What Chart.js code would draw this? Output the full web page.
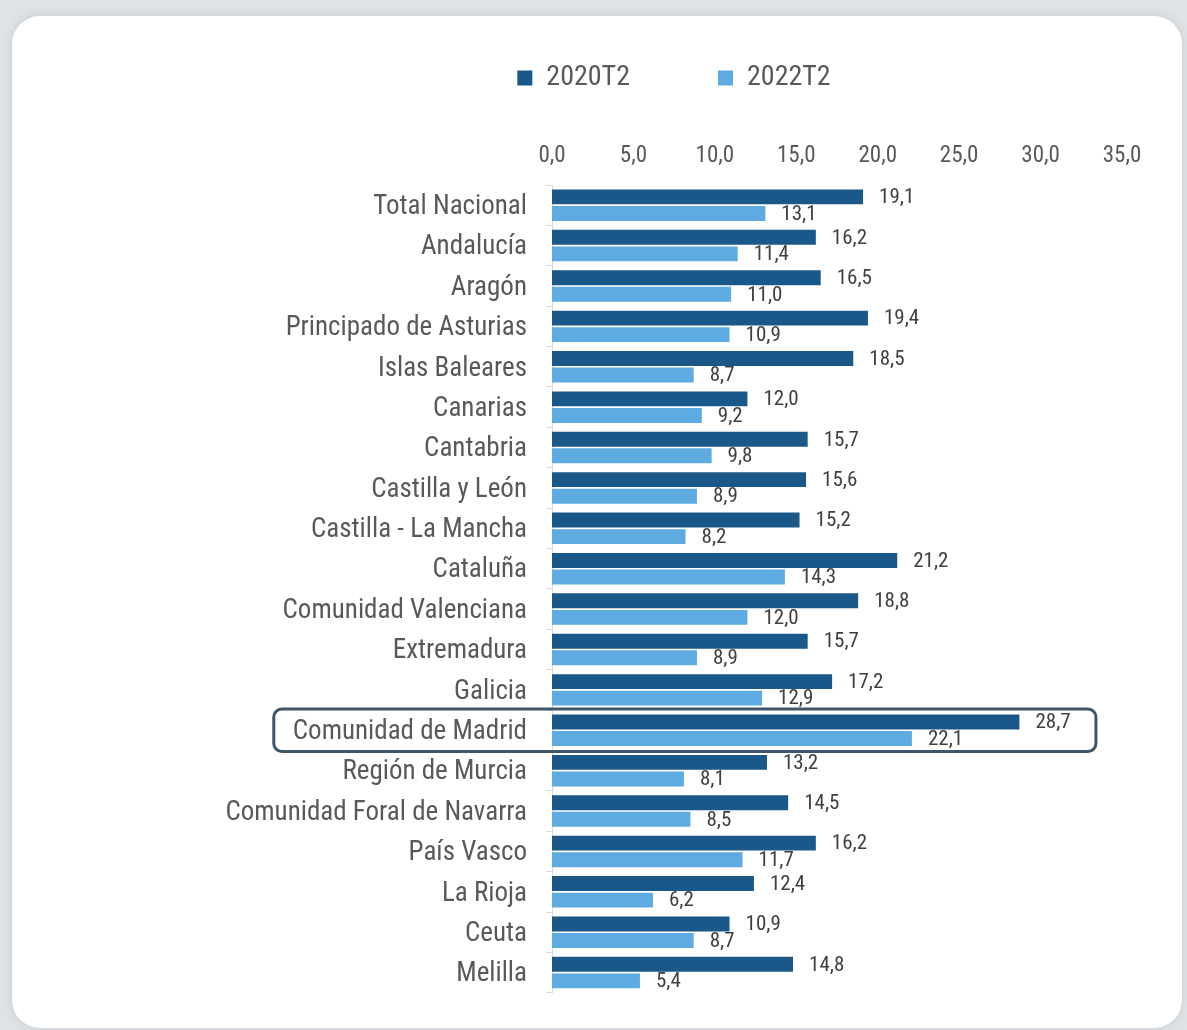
<!DOCTYPE html>
<html>
<head>
<meta charset="utf-8">
<script src="https://cdn.jsdelivr.net/npm/chart.js@4/dist/chart.umd.min.js"></script>
<style>
  html, body { margin: 0; padding: 0; }
  body { width: 1187px; height: 1030px; background: #dfe3e6; overflow: hidden; position: relative; }
  .card {
    position: absolute; left: 12px; top: 16px; width: 1170px; height: 1012px;
    background: #fff; border-radius: 28px; box-shadow: 0 0 10px rgba(120,130,140,0.25);
  }
  canvas { display: block; }
</style>
</head>
<body>
<div class="card"><canvas id="ocupados" width="1170" height="1012"></canvas></div>
<script>
var regiones = ["Total Nacional", "Andalucía", "Aragón", "Principado de Asturias", "Islas Baleares",
  "Canarias", "Cantabria", "Castilla y León", "Castilla - La Mancha", "Cataluña",
  "Comunidad Valenciana", "Extremadura", "Galicia", "Comunidad de Madrid", "Región de Murcia",
  "Comunidad Foral de Navarra", "País Vasco", "La Rioja", "Ceuta", "Melilla"];
var serie2020 = [19.1, 16.2, 16.5, 19.4, 18.5, 12.0, 15.7, 15.6, 15.2, 21.2,
  18.8, 15.7, 17.2, 28.7, 13.2, 14.5, 16.2, 12.4, 10.9, 14.8];
var serie2022 = [13.1, 11.4, 11.0, 10.9, 8.7, 9.2, 9.8, 8.9, 8.2, 14.3,
  12.0, 8.9, 12.9, 22.1, 8.1, 8.5, 11.7, 6.2, 8.7, 5.4];
var etiquetas = ["2020T2", "2022T2"];
var destacada = "Comunidad de Madrid";

var FAMILY = "'Roboto Condensed', 'Liberation Sans Narrow', 'DejaVu Sans Condensed', 'Arial Narrow', Roboto, sans-serif";
var GREY_TEXT = "#595959";
var CAT_SIZE = 27;

function coma(v) {
  return Number(v).toFixed(1).replace(".", ",");
}

// value next to the end of every bar
var valueLabels = {
  id: "valueLabels",
  afterDatasetsDraw: function(chart) {
    var ctx = chart.ctx;
    ctx.save();
    ctx.font = "21px " + FAMILY;
    ctx.fillStyle = "#404040";
    ctx.textAlign = "left";
    ctx.textBaseline = "middle";
    chart.data.datasets.forEach(function(ds, i) {
      chart.getDatasetMeta(i).data.forEach(function(bar, j) {
        ctx.fillText(coma(ds.data[j]), bar.x + 16, bar.y + 1);
      });
    });
    ctx.restore();
  }
};

// rounded frame around the highlighted region
var highlight = {
  id: "highlight",
  afterDatasetsDraw: function(chart) {
    var y = chart.scales.y, x = chart.scales.x, ctx = chart.ctx;
    var idx = regiones.indexOf(destacada);
    var cy = y.getPixelForValue(idx);
    var half = (y.getPixelForValue(1) - y.getPixelForValue(0)) / 2 + 1;
    ctx.save();
    ctx.font = CAT_SIZE + "px " + FAMILY;
    var labelRight = y.right - 6 - 19;
    var left = labelRight - ctx.measureText(destacada).width - 19;
    var right = x.getPixelForValue(33.4);
    ctx.strokeStyle = "#3e5668";
    ctx.lineWidth = 3;
    ctx.beginPath();
    ctx.roundRect(left, cy - half, right - left, half * 2, 8);
    ctx.stroke();
    ctx.restore();
  }
};

// legend sits a bit right of centre, high above the axis labels
var legendPlace = {
  id: "legendPlace",
  afterLayout: function(chart) {
    var lg = chart.legend;
    var pad = lg.options.labels.padding;
    lg.left += 107;
    lg.right += 107;
    lg.top = 62 - pad - 14;
    lg.bottom = lg.top + pad + 40;
    lg.height = lg.bottom - lg.top;
  }
};

new Chart(document.getElementById("ocupados"), {
  type: "bar",
  data: {
    labels: regiones,
    datasets: [
      { label: etiquetas[0], data: serie2020, backgroundColor: "#1a5889" },
      { label: etiquetas[1], data: serie2022, backgroundColor: "#5dabe0" }
    ]
  },
  options: {
    indexAxis: "y",
    responsive: false,
    animation: false,
    datasets: { bar: { categoryPercentage: 0.82, barPercentage: 0.9 } },
    layout: { padding: { top: 9, right: 60, bottom: 35, left: 0 } },
    plugins: {
      legend: {
        position: "top",
        maxHeight: 1,
        labels: {
          boxWidth: 15, boxHeight: 15, padding: 88,
          color: GREY_TEXT, font: { family: FAMILY, size: 28 }
        }
      },
      tooltip: { enabled: false }
    },
    scales: {
      x: {
        position: "top",
        min: 0, max: 35,
        border: { display: false },
        grid: { display: false, drawTicks: false },
        ticks: {
          stepSize: 5, padding: 15, color: GREY_TEXT,
          font: { family: FAMILY, size: 23 },
          callback: function(v) { return coma(v); }
        },
        afterFit: function(s) { s.height = 159; }
      },
      y: {
        border: { display: true, color: "#d9d9d9", width: 1 },
        grid: { display: true, drawOnChartArea: false, drawTicks: true, tickLength: 6, offset: true, color: "#d9d9d9" },
        ticks: { padding: 19, labelOffset: 2, color: GREY_TEXT, font: { family: FAMILY, size: CAT_SIZE } },
        afterFit: function(s) { s.width = 540; }
      }
    }
  },
  plugins: [valueLabels, highlight, legendPlace]
});
</script>
</body>
</html>
